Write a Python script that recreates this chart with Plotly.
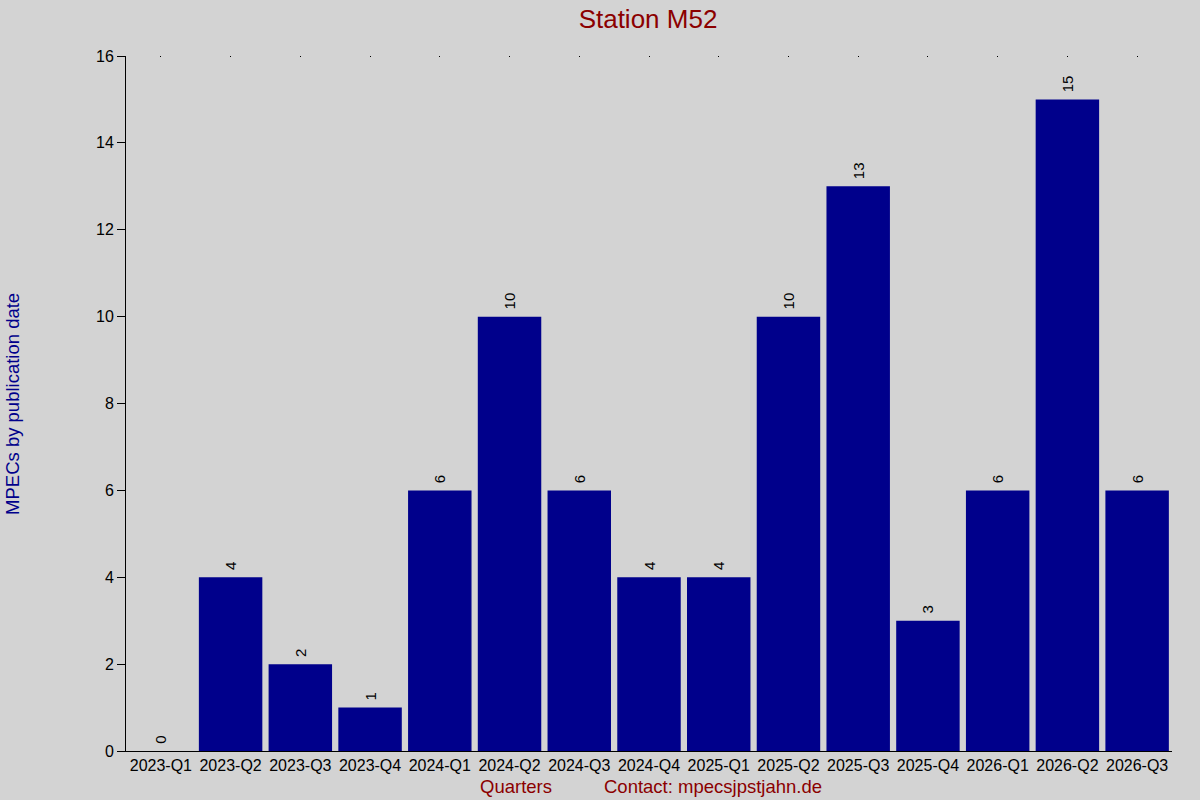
import plotly.graph_objects as go

quarters = ["2023-Q1", "2023-Q2", "2023-Q3", "2023-Q4", "2024-Q1", "2024-Q2",
            "2024-Q3", "2024-Q4", "2025-Q1", "2025-Q2", "2025-Q3", "2025-Q4",
            "2026-Q1", "2026-Q2", "2026-Q3"]
mpecs = [0, 4, 2, 1, 6, 10, 6, 4, 4, 10, 13, 3, 6, 15, 6]
y_ticks = [0, 2, 4, 6, 8, 10, 12, 14, 16]

FONT = "Liberation Sans, Arial, sans-serif"

fig = go.Figure(go.Bar(
    x=quarters, y=mpecs,
    marker=dict(color="#00008B", line=dict(width=0)),
    text=["\u00a0" + str(v) for v in mpecs],
    textposition="outside",
    textangle=-90,
    textfont=dict(family=FONT, size=15, color="black"),
    cliponaxis=False,
))

fig.update_layout(
    width=1200, height=800,
    paper_bgcolor="#D3D3D3", plot_bgcolor="#D3D3D3",
    margin=dict(l=126, r=28, t=56, b=49),
    bargap=0.09,
    showlegend=False,
    font=dict(family=FONT, size=16, color="black"),
    title=dict(text="Station M52", x=0.54, xanchor="center", y=0.977, yanchor="middle",
               font=dict(family=FONT, size=26, color="#8B0000")),
    xaxis=dict(
        showline=True, linecolor="black", linewidth=1,
        ticks="", showgrid=False, zeroline=False,
        tickfont=dict(family=FONT, size=16, color="black"),
        range=[-0.5, 14.5],
    ),
    xaxis2=dict(
        overlaying="x", side="top", range=[-0.5, 14.5],
        tickvals=list(range(len(quarters))), showticklabels=False,
        ticks="inside", ticklen=1, tickcolor="black", tickwidth=1,
        showline=False, showgrid=False, zeroline=False,
    ),
    yaxis=dict(
        range=[0, 16], tickvals=y_ticks, ticktext=[str(t) for t in y_ticks],
        showline=True, linecolor="black", linewidth=1,
        ticks="outside", ticklen=8, tickcolor="black",
        showgrid=False, zeroline=False,
        tickfont=dict(family=FONT, size=16, color="black"),
        title=None,
    ),
    annotations=[
        dict(text="MPECs by publication date", xref="paper", yref="paper",
             x=-0.1205, y=0.5, textangle=-90, showarrow=False, xanchor="left",
             font=dict(family=FONT, size=18.5, color="#00008B")),
        dict(text="Quarters", xref="paper", yref="paper",
             x=0.373, y=-0.0505, yanchor="middle", showarrow=False, xanchor="center",
             font=dict(family=FONT, size=18.5, color="#8B0000")),
        dict(text="Contact: mpecsjpstjahn.de", xref="paper", yref="paper",
             x=0.455, y=-0.0505, yanchor="middle", showarrow=False, xanchor="left",
             font=dict(family=FONT, size=18.5, color="#8B0000")),
    ],
)

# invisible helper trace so the top tick axis is rendered
fig.add_trace(go.Scatter(x=[0], y=[0], xaxis="x2", mode="markers",
                         marker=dict(opacity=0), hoverinfo="skip", showlegend=False))

fig.write_html("out.html", config={"displayModeBar": False},
               post_script="document.body.style.margin='0';document.body.style.overflow='hidden';")
